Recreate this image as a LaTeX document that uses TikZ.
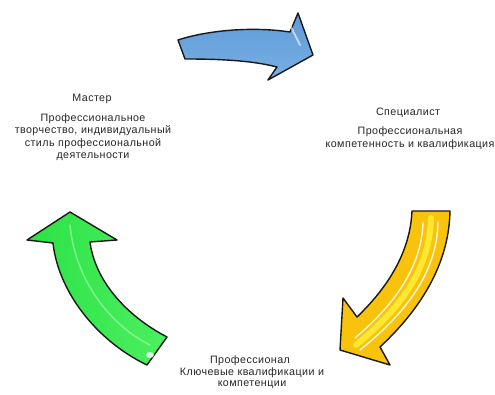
\documentclass[tikz,border=0pt]{standalone}
\usepackage{fontspec}
\setmainfont{Liberation Sans}[LetterSpace=4]
\definecolor{blueA}{RGB}{120,175,228}
\definecolor{blueB}{RGB}{95,155,215}
\definecolor{goldA}{RGB}{248,195,10}
\definecolor{goldB}{RGB}{255,232,50}
\definecolor{greenA}{RGB}{45,225,70}
\definecolor{greenB}{RGB}{75,240,95}
\begin{document}
\begin{tikzpicture}[x=1pt,y=-1pt,
  lbl/.style={font=\fontsize{10.7}{12.5}\selectfont, align=center, inner sep=0pt, text=black!85},
  arrowline/.style={draw=black!90, line width=1.4pt, line join=round}]
\useasboundingbox[fill=white] (0,0) rectangle (495,395);
% blue arrow
\shade[arrowline, top color=blueB, bottom color=blueA]
  (178,40) .. controls (205,31) and (250,26) .. (290,32) -- (298,13) -- (313,55) -- (268,80) -- (277,67)
  .. controls (250,60) and (215,59) .. (185,59) -- cycle;
\draw[white, opacity=0.6, line width=2pt, line cap=round] (291,27) -- (300,45);
% yellow arrow
\filldraw[arrowline, fill=goldA]
  (412,211) -- (450,211) .. controls (449,260) and (425,305) .. (380,347) -- (390,365) -- (340,350) -- (343,298) -- (357,317)
  .. controls (385,290) and (410,255) .. (412,211) -- cycle;
\draw[goldB, line width=6pt, line cap=round]
  (431,218) .. controls (430,265) and (405,305) .. (356,345);
\draw[white, opacity=0.85, line width=1.4pt, line cap=round]
  (423,222) .. controls (422,262) and (400,300) .. (355,338);
\draw[white, opacity=0.85, line width=1.4pt, line cap=round]
  (438,222) .. controls (437,268) and (412,308) .. (360,350);
% green arrow
\shade[arrowline, left color=greenA, right color=greenB]
  (70,212) -- (117,240) -- (90,242) .. controls (95,280) and (125,315) .. (167,337) -- (147,365)
  .. controls (95,340) and (58,290) .. (53,243) -- (27,240) -- cycle;
\draw[white, opacity=0.35, line width=1.5pt, line cap=round] (70,225) .. controls (75,280) and (110,325) .. (150,345);
\fill[white, opacity=0.8] (150,355) ellipse (4 and 3);
% texts
\node[lbl] (mT) at (92,99) {Мастер};
\node[lbl, text width=200pt] (mB) at (93,137) {Профессиональное\\творчество, индивидуальный\\стиль профессиональной\\деятельности};
\node[lbl] (sT) at (408,113) {Специалист};
\node[lbl, text width=220pt] (sB) at (410,138) {Профессиональная\\компетенность и квалификация};
\node[lbl] (pT) at (250,361) {Профессионал};
\node[lbl, text width=200pt, font=\fontsize{10.7}{11}\selectfont] (pB) at (252,378.5) {Ключевые квалификации и\\компетенции};
\end{tikzpicture}
\end{document}
